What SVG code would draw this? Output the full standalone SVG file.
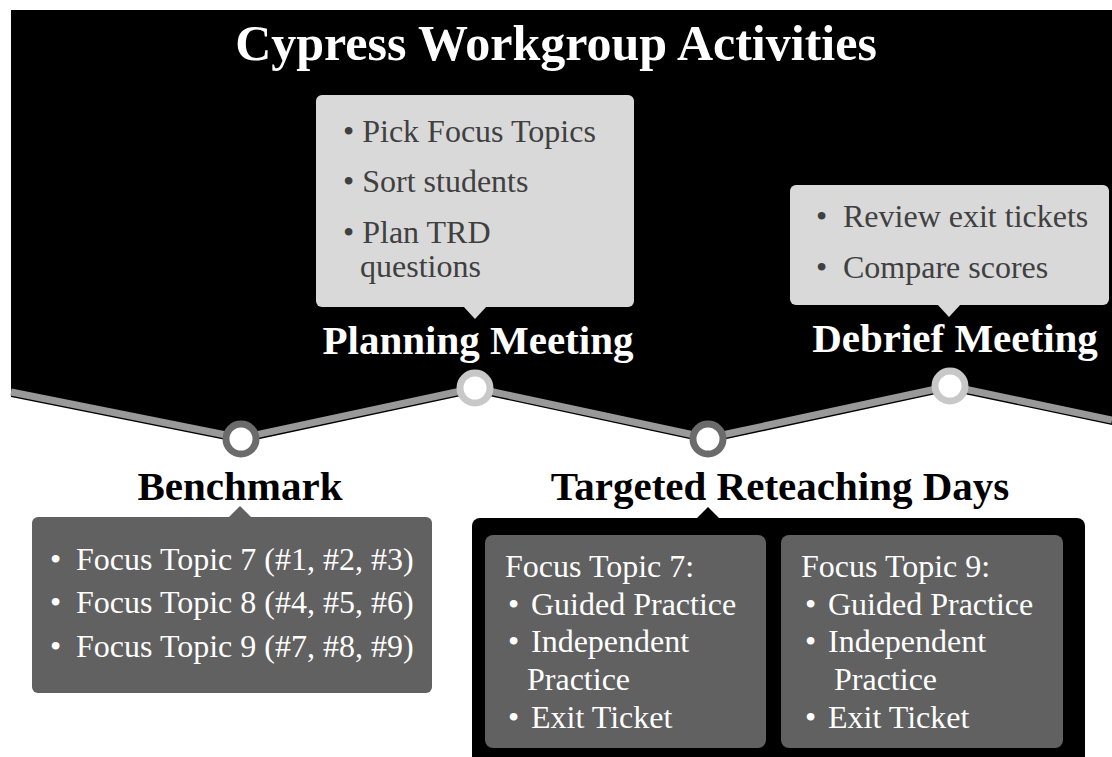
<svg xmlns="http://www.w3.org/2000/svg" width="1112" height="757" viewBox="0 0 1112 757">
<style>
.h{font-family:"Liberation Serif","Times New Roman",serif;font-weight:bold;font-size:41px;text-anchor:middle}
.t{font-family:"Liberation Serif","Times New Roman",serif;font-size:32px}
.lt{fill:#404040}
.wt{fill:#ffffff}
.lbox{fill:#d9d9d9}
.dbox{fill:#616161}
.ringD{fill:#ffffff;stroke:#6b6b6b;stroke-width:7}
.ringL{fill:#ffffff;stroke:#c8c8c8;stroke-width:7}
</style>
<rect x="0" y="0" width="1112" height="757" fill="#ffffff"/>
<polygon points="11,10 1112,10 1112,425 950,391 708,443 475,393 241,443 11,397" fill="#000000"/>
<g id="connectors">
<polyline points="11,392 241,438 475,388 708,438 950,386 1112,420" fill="none" stroke="#999999" stroke-width="7" stroke-linejoin="round"/>
</g>
<text x="556" y="60" class="h wt" style="font-size:50px">Cypress Workgroup Activities</text>
<g id="planning">
<rect x="316" y="95" width="318" height="212" rx="6" class="lbox"/>
<polygon points="463,306 487,306 475,319" class="lbox"/>
<text x="343" y="142" class="t lt">• Pick Focus Topics</text>
<text x="343" y="192" class="t lt">• Sort students</text>
<text x="343" y="243" class="t lt">• Plan TRD</text>
<text x="360" y="277" class="t lt">questions</text>
<text x="478" y="354" class="h wt">Planning Meeting</text>
<circle cx="475" cy="388" r="15" class="ringL"/>
</g>
<g id="debrief">
<rect x="790" y="185" width="319" height="120" rx="6" class="lbox"/>
<polygon points="937,304 961,304 949,317" class="lbox"/>
<text x="816" y="227" class="t lt">•</text>
<text x="843" y="227" class="t lt">Review exit tickets</text>
<text x="816" y="278" class="t lt">•</text>
<text x="843" y="278" class="t lt">Compare scores</text>
<text x="955" y="352" class="h wt">Debrief Meeting</text>
<circle cx="950" cy="386" r="15" class="ringL"/>
</g>
<g id="benchmark">
<circle cx="241" cy="439" r="15" class="ringD"/>
<text x="240" y="500" class="h" fill="#000000">Benchmark</text>
<rect x="32" y="517" width="400" height="176" rx="6" class="dbox"/>
<polygon points="228,518 252,518 240,506" class="dbox"/>
<text x="50" y="570" class="t wt">•</text>
<text x="76" y="570" class="t wt">Focus Topic 7 (#1, #2, #3)</text>
<text x="50" y="613" class="t wt">•</text>
<text x="76" y="613" class="t wt">Focus Topic 8 (#4, #5, #6)</text>
<text x="50" y="657" class="t wt">•</text>
<text x="76" y="657" class="t wt">Focus Topic 9 (#7, #8, #9)</text>
</g>
<g id="targeted">
<circle cx="708" cy="439" r="15" class="ringD"/>
<text x="780" y="500" class="h" fill="#000000">Targeted Reteaching Days</text>
<rect x="472" y="518" width="613" height="260" rx="8" fill="#000000"/>
<polygon points="696,519 720,519 708,507" fill="#000000"/>
<g id="topic7">
<rect x="485" y="535" width="281" height="213" rx="8" class="dbox"/>
<text x="505" y="577" class="t wt">Focus Topic 7:</text>
<text x="508" y="615" class="t wt">•</text>
<text x="531" y="615" class="t wt">Guided Practice</text>
<text x="508" y="652" class="t wt">•</text>
<text x="531" y="652" class="t wt">Independent</text>
<text x="527" y="690" class="t wt">Practice</text>
<text x="508" y="728" class="t wt">•</text>
<text x="531" y="728" class="t wt">Exit Ticket</text>
</g>
<g id="topic9">
<rect x="781" y="535" width="282" height="213" rx="8" class="dbox"/>
<text x="801" y="577" class="t wt">Focus Topic 9:</text>
<text x="805" y="615" class="t wt">•</text>
<text x="828" y="615" class="t wt">Guided Practice</text>
<text x="805" y="652" class="t wt">•</text>
<text x="828" y="652" class="t wt">Independent</text>
<text x="834" y="690" class="t wt">Practice</text>
<text x="805" y="728" class="t wt">•</text>
<text x="828" y="728" class="t wt">Exit Ticket</text>
</g>
</g>
</svg>
